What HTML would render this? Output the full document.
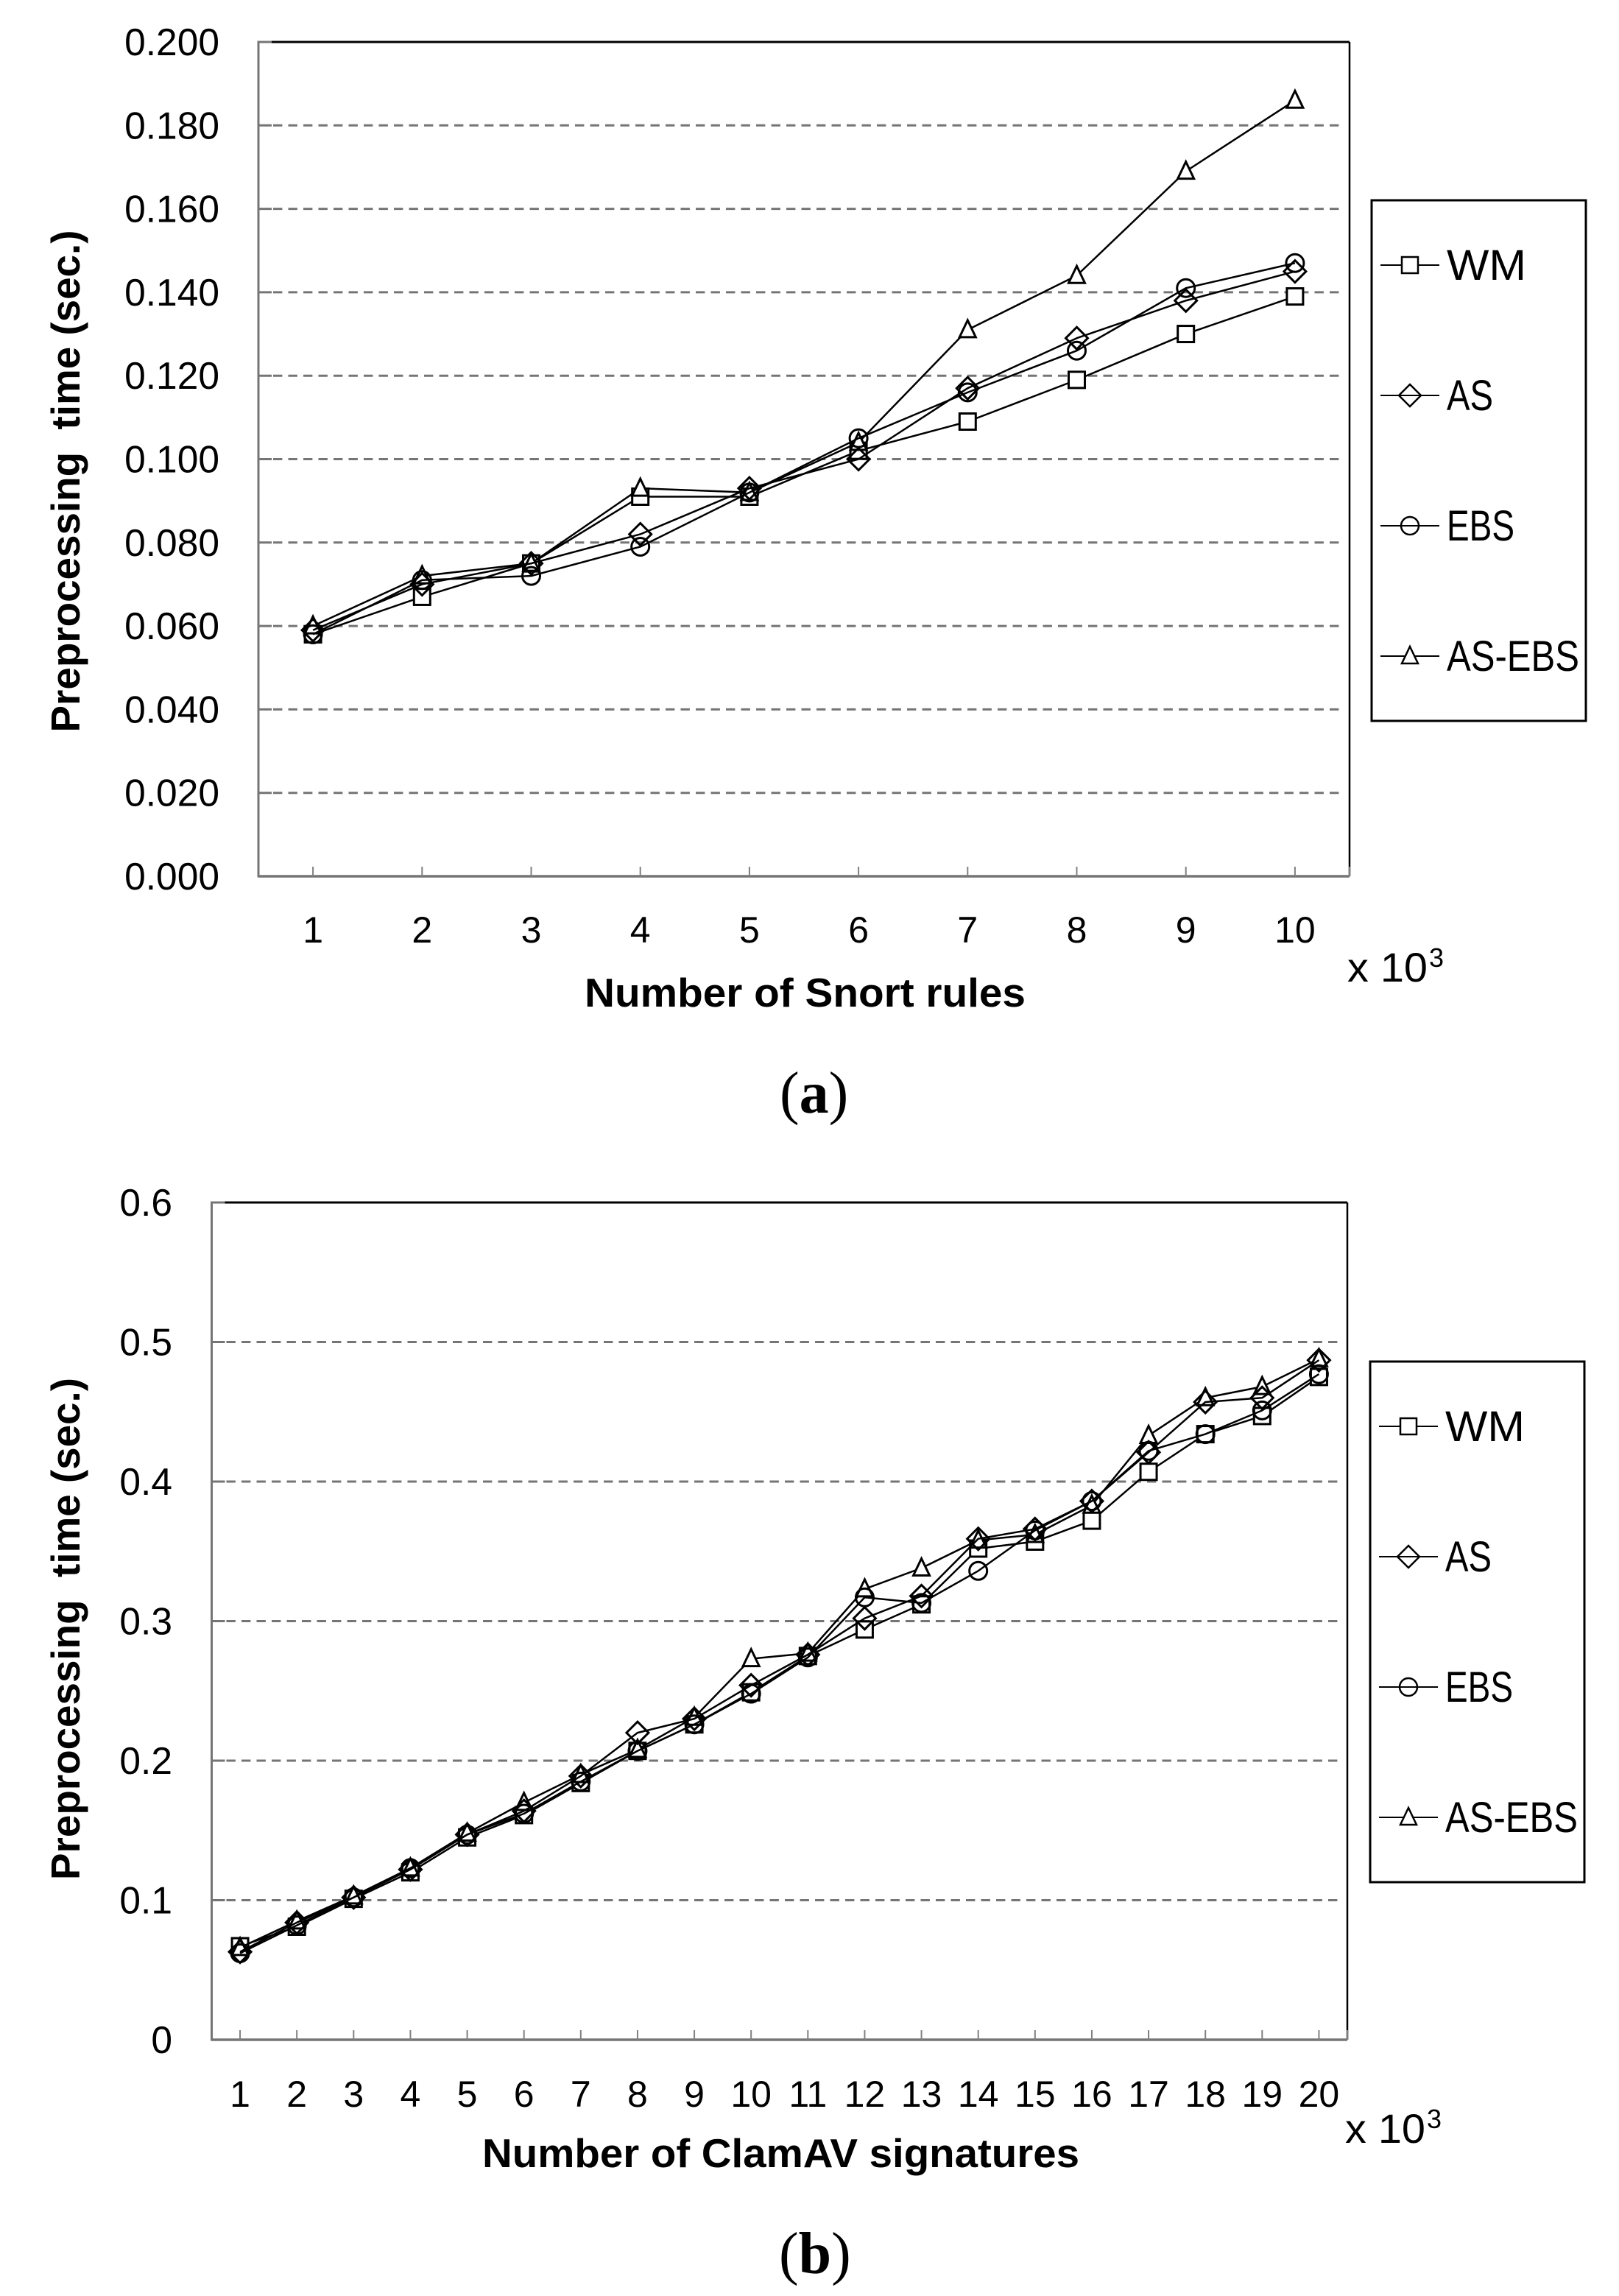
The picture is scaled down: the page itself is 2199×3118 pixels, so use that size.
<!DOCTYPE html>
<html lang="en">
<head>
<meta charset="utf-8">
<title>Preprocessing time charts</title>
<style>
  html, body { margin: 0; padding: 0; background: #fff; }
  svg { display: block; }
  text { font-family: "Liberation Sans", sans-serif; fill: #000; }
  .tick { font-size: 50px; }
  .y-tick { font-size: 51.5px; }
  .axis-title { font-size: 55px; font-weight: bold; white-space: pre; }
  .legend-label { font-size: 58px; }
  .unit { font-size: 56px; }
  .unit-sup { font-size: 36px; }
  .caption { font-family: "Liberation Serif", serif; font-size: 80px; }
  .caption tspan { font-family: "Liberation Serif", serif; font-weight: bold; }
</style>
</head>
<body>
<svg id="figure" xmlns="http://www.w3.org/2000/svg" width="2199" height="3118" viewBox="0 0 2199 3118">
  <rect x="0" y="0" width="2199" height="3118" fill="#fff"/>

  <g id="chart-a"></g>
  <text class="axis-title" transform="translate(108,994.5) rotate(-90)" textLength="682" lengthAdjust="spacingAndGlyphs">Preprocessing  time (sec.)</text>
  <text class="axis-title" x="794" y="1367" textLength="599" lengthAdjust="spacingAndGlyphs">Number of Snort rules</text>
  <text class="unit" x="1830" y="1333" textLength="109" lengthAdjust="spacingAndGlyphs">x 10</text>
  <text class="unit-sup" x="1941" y="1313">3</text>
  <text class="caption" x="1059" y="1511">(<tspan>a</tspan>)</text>

  <g id="chart-b"></g>
  <text class="axis-title" transform="translate(108,2553) rotate(-90)" textLength="682" lengthAdjust="spacingAndGlyphs">Preprocessing  time (sec.)</text>
  <text class="axis-title" x="655" y="2943" textLength="811" lengthAdjust="spacingAndGlyphs">Number of ClamAV signatures</text>
  <text class="unit" x="1827" y="2910" textLength="109" lengthAdjust="spacingAndGlyphs">x 10</text>
  <text class="unit-sup" x="1938" y="2890">3</text>
  <text class="caption" x="1058" y="3087">(<tspan>b</tspan>)</text>
</svg>

<script>
// ---------- Chart (a) data ----------
const snortCategories = ["1","2","3","4","5","6","7","8","9","10"];
const snortYTicks = ["0.000","0.020","0.040","0.060","0.080","0.100","0.120","0.140","0.160","0.180","0.200"];
const snortWM    = [0.058,0.067,0.075,0.091,0.091,0.102,0.109,0.119,0.130,0.139];
const snortAS    = [0.059,0.070,0.075,0.082,0.093,0.100,0.117,0.129,0.138,0.145];
const snortEBS   = [0.058,0.071,0.072,0.079,0.092,0.105,0.116,0.126,0.141,0.147];
const snortASEBS = [0.060,0.072,0.075,0.093,0.092,0.104,0.131,0.144,0.169,0.186];

// ---------- Chart (b) data ----------
const clamCategories = ["1","2","3","4","5","6","7","8","9","10","11","12","13","14","15","16","17","18","19","20"];
const clamYTicks = ["0","0.1","0.2","0.3","0.4","0.5","0.6"];
const clamWM    = [0.067,0.081,0.101,0.120,0.145,0.161,0.184,0.207,0.226,0.249,0.275,0.294,0.312,0.352,0.357,0.372,0.407,0.434,0.447,0.475];
const clamAS    = [0.063,0.084,0.102,0.122,0.147,0.164,0.189,0.220,0.230,0.254,0.276,0.302,0.318,0.359,0.366,0.386,0.421,0.457,0.460,0.487];
const clamEBS   = [0.062,0.082,0.102,0.123,0.147,0.162,0.185,0.207,0.226,0.248,0.274,0.317,0.313,0.336,0.365,0.386,0.422,0.434,0.451,0.477];
const clamASEBS = [0.066,0.085,0.103,0.123,0.148,0.170,0.190,0.208,0.231,0.273,0.277,0.323,0.338,0.358,0.362,0.383,0.433,0.460,0.468,0.488];

const seriesNames = ["WM","AS-EBS","EBS","AS"];
const legendNames = ["WM","AS","EBS","AS-EBS"];
const legendWidths = [108,63,92,180];

const SVG_NS = "http://www.w3.org/2000/svg";
const markerKinds = { "WM": "square", "AS": "diamond", "EBS": "circle", "AS-EBS": "triangle" };

function el(tag, attrs, parent, text) {
  const node = document.createElementNS(SVG_NS, tag);
  for (const key in attrs) node.setAttribute(key, attrs[key]);
  if (text !== undefined) node.textContent = text;
  parent.appendChild(node);
  return node;
}

function drawMarker(parent, kind, cx, cy, sw) {
  const base = { stroke: "#000", "stroke-width": sw, "stroke-linejoin": "miter" };
  if (kind === "square") {
    return el("rect", Object.assign({ x: cx - 11, y: cy - 11, width: 22, height: 22, fill: "#fff" }, base), parent);
  }
  if (kind === "diamond") {
    const pts = [cx, cy - 15, cx + 15, cy, cx, cy + 15, cx - 15, cy].join(",");
    return el("polygon", Object.assign({ points: pts, fill: "none" }, base), parent);
  }
  if (kind === "circle") {
    return el("circle", Object.assign({ cx: cx, cy: cy, r: 12, fill: "none" }, base), parent);
  }
  const tri = [cx, cy - 13, cx + 11, cy + 10, cx - 11, cy + 10].join(",");
  return el("polygon", Object.assign({ points: tri, fill: "#fff" }, base), parent);
}

function drawChart(root, prefix, box, categories, yTicks, seriesMap) {
  const yMax = parseFloat(yTicks[yTicks.length - 1]);
  const yScale = function (v) { return box.bottom - (v / yMax) * (box.bottom - box.top); };
  const step = (box.right - box.left) / categories.length;
  const xScale = function (i) { return box.left + step * (i + 0.5); };

  // gridlines + y ticks + labels
  yTicks.forEach(function (label) {
    const v = parseFloat(label);
    const y = yScale(v);
    if (v > 0 && v < yMax) {
      const grid = el("line", { x1: box.left + 20, x2: box.gridEnd, y1: y, y2: y, stroke: "#757575", "stroke-width": 3, "stroke-dasharray": "12.4 8.1" }, root);
      
      
    }
    const tl = el("text", { class: "y-tick", x: box.labelRight, y: y + 18, "text-anchor": "end" }, root, label);
    
    
  });

  // frame: top and right black, left and bottom gray
  const topAxis = el("line", { x1: box.left, x2: box.right, y1: box.top, y2: box.top, stroke: "#000", "stroke-width": 3 }, root);
  
  
  const rightAxis = el("line", { x1: box.right, x2: box.right, y1: box.top, y2: box.bottom, stroke: "#000", "stroke-width": 2.5 }, root);
  
  

  yTicks.forEach(function (label) {
    const y = yScale(parseFloat(label));
    const mark = el("line", { x1: box.left, x2: box.left + 18, y1: y, y2: y, stroke: "#757575", "stroke-width": 3 }, root);
    
    
  });

  const leftAxis = el("line", { x1: box.left, x2: box.left, y1: box.top - 1.5, y2: box.bottom + 1.5, stroke: "#757575", "stroke-width": 3 }, root);
  
  
  const bottomAxis = el("line", { x1: box.left, x2: box.right, y1: box.bottom, y2: box.bottom, stroke: "#757575", "stroke-width": 3.5 }, root);
  
  

  // x ticks + labels
  categories.forEach(function (label, i) {
    const x = xScale(i);
    const t = el("line", { x1: x, x2: x, y1: box.bottom - 13, y2: box.bottom, stroke: "#808080", "stroke-width": 2 }, root);
    
    
    const tl = el("text", { class: "tick", x: x, y: box.xLabelBaseline, "text-anchor": "middle" }, root, label);
    
    
  });
  const endTick = el("line", { x1: box.right, x2: box.right, y1: box.bottom - 13, y2: box.bottom, stroke: "#808080", "stroke-width": 2 }, root);
  
  

  // series
  seriesNames.forEach(function (name) {
    const values = seriesMap[name];
    const group = el("g", {}, root);
    
    
    const pts = values.map(function (v, i) { return xScale(i) + "," + yScale(v); }).join(" ");
    const line = el("polyline", { points: pts, fill: "none", stroke: "#000", "stroke-width": 2.5, "stroke-linejoin": "round" }, group);
    
    
    values.forEach(function (v, i) {
      const m = drawMarker(group, markerKinds[name], xScale(i), yScale(v), 3);
      
      
    });
  });

  // legend
  const legend = el("g", {}, root);
  
  
  const frame = el("rect", { x: box.legendX, y: box.legendY, width: box.legendW, height: box.legendH, fill: "#fff", stroke: "#000", "stroke-width": 3 }, legend);
  
  
  legendNames.forEach(function (name, i) {
    const y = box.legendFirstRow + i * box.legendRowGap;
    const lx = box.legendX + 12;
    const cx = lx + 40;
    const entry = el("g", {}, legend);
    
    
    const swatch = el("line", { x1: lx, x2: lx + 80, y1: y, y2: y, stroke: "#000", "stroke-width": 2 }, entry);
    
    
    const mk = drawMarker(entry, markerKinds[name], cx, y, 2.5);
    
    
    const txt = el("text", { class: "legend-label", x: box.legendX + 102, y: y + 20, textLength: legendWidths[i], lengthAdjust: "spacingAndGlyphs" }, entry, name);
    
    
  });
}

drawChart(document.getElementById("chart-a"), "chart-a",
  { left: 351, right: 1833, top: 57, bottom: 1190, gridEnd: 1823, labelRight: 298, xLabelBaseline: 1280,
    legendX: 1863, legendY: 272, legendW: 291, legendH: 707, legendFirstRow: 360, legendRowGap: 177 },
  snortCategories, snortYTicks,
  { "WM": snortWM, "AS": snortAS, "EBS": snortEBS, "AS-EBS": snortASEBS });

drawChart(document.getElementById("chart-b"), "chart-b",
  { left: 287.5, right: 1830, top: 1633, bottom: 2770, gridEnd: 1821, labelRight: 234, xLabelBaseline: 2861,
    legendX: 1861, legendY: 1849, legendW: 291, legendH: 707, legendFirstRow: 1937, legendRowGap: 177 },
  clamCategories, clamYTicks,
  { "WM": clamWM, "AS": clamAS, "EBS": clamEBS, "AS-EBS": clamASEBS });
</script>
</body>
</html>
